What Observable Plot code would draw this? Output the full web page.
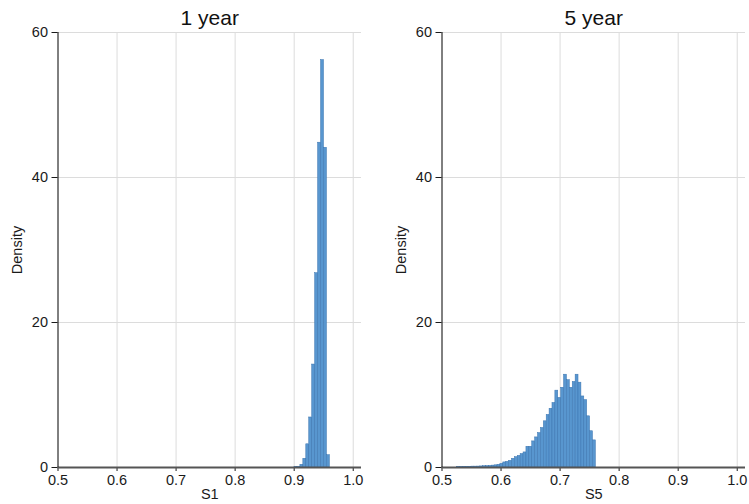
<!DOCTYPE html>
<html>
<head>
<meta charset="utf-8">
<script src="https://cdn.jsdelivr.net/npm/d3@7"></script>
<script src="https://cdn.jsdelivr.net/npm/@observablehq/plot@0.6"></script>
<style>
  html, body { margin: 0; padding: 0; background: white; }
  #wrap { display: flex; width: 749px; height: 504px; }
</style>
</head>
<body>
<div id="wrap"></div>
<script>
// ---- data ----
const panelTitles = ["1 year", "5 year"];
const xLabels = ["S1", "S5"];
const xTicks = [0.5, 0.6, 0.7, 0.8, 0.9, 1.0];
const xGrid = [0.6, 0.7, 0.8, 0.9, 1.0];
const yTicks = [0, 20, 40, 60];
const yGrid = [20, 40, 60];

// 1-year survival histogram: bins starting at s1Start, width s1Width
const s1Start = 0.9005;
const s1Width = 0.005;
const s1Density = [0.05, 0.05, 0.37, 1.2, 3.2, 6.9, 14.2, 26.8, 44.8, 56.2, 44.1, 1.7];

// 5-year survival histogram
const s5Start = 0.5254;
const s5Width = 0.0049;
const s5Density = [
  0.08, 0.08, 0.1, 0.1, 0.1, 0.12, 0.12, 0.13, 0.15, 0.18,
  0.2, 0.22, 0.26, 0.3, 0.37, 0.5, 0.7, 0.78, 0.92, 1.2,
  1.43, 1.6, 1.85, 2.08, 2.86, 2.86, 3.6, 4.15, 4.75, 5.45,
  6.37, 7.25, 8.1, 8.9, 10.6, 9.6, 11.0, 12.8, 12.05, 11.0,
  11.8, 12.8, 11.7, 9.8, 9.3, 7.06, 5.0, 3.74
];

function toBins(start, width, dens) {
  return dens.map((d, i) => ({x1: start + i * width, x2: start + (i + 1) * width, y: d}));
}

function panel(title, xLabel, bins, width, marginRight) {
  return Plot.plot({
    width: width,
    height: 504,
    marginLeft: 57.5,
    marginRight: marginRight,
    marginTop: 32,
    marginBottom: 37,
    style: {fontFamily: "'Liberation Sans', Arial, sans-serif", fontSize: "14px", background: "white", color: "#1a1a1a"},
    x: {domain: [0.5, 1.014]},
    y: {domain: [0, 60]},
    marks: [
      Plot.gridX(xGrid, {stroke: "#dcdcdc", strokeOpacity: 1}),
      Plot.gridY(yGrid, {stroke: "#dcdcdc", strokeOpacity: 1}),
      Plot.rectY(bins, {x1: "x1", x2: "x2", y: "y", fill: "#5896cf", stroke: "#3a74b0", strokeWidth: 0.5}),
      Plot.axisX({ticks: xTicks, tickFormat: d3.format(".1f"), tickSize: 4, tickPadding: 3, fontSize: 14.5,
                  label: xLabel, labelAnchor: "center", labelArrow: "none", labelOffset: 31}),
      Plot.axisY({ticks: yTicks, tickSize: 6, tickPadding: 4, fontSize: 14.5,
                  label: "Density", labelAnchor: "center", labelArrow: "none", labelOffset: 46}),
      Plot.ruleY([0], {stroke: "#555", strokeWidth: 1.8}),
      Plot.ruleX([0.5], {y1: 0, y2: 60, stroke: "#000", strokeWidth: 1}),
      Plot.text([title], {frameAnchor: "top", dy: -22, fill: "#111", fontSize: 21})
    ]
  });
}

const wrap = document.getElementById("wrap");
wrap.append(panel(panelTitles[0], xLabels[0], toBins(s1Start, s1Width, s1Density), 384, 23));
wrap.append(panel(panelTitles[1], xLabels[1], toBins(s5Start, s5Width, s5Density), 365, 4));
</script>
</body>
</html>
